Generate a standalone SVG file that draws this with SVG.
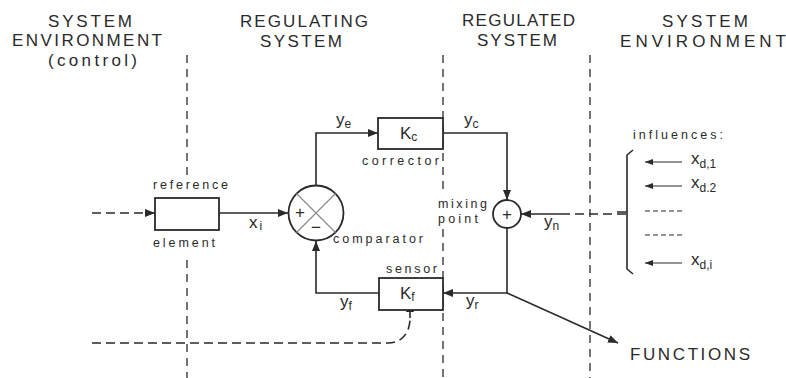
<svg xmlns="http://www.w3.org/2000/svg" width="786" height="378" viewBox="0 0 786 378">
<defs>
<marker id="ah" viewBox="0 0 10 8" refX="10" refY="4" markerWidth="10" markerHeight="8" markerUnits="userSpaceOnUse" orient="auto">
<path d="M0,0 L10,4 L0,8 z" fill="#2a2a2a"/>
</marker>
<marker id="ahs" viewBox="0 0 8 6" refX="8" refY="3" markerWidth="8" markerHeight="6" markerUnits="userSpaceOnUse" orient="auto">
<path d="M0,0 L8,3 L0,6 z" fill="#2a2a2a"/>
</marker>
<style>
.hd{font-family:"Liberation Sans",Arial,sans-serif;font-size:17px;fill:#2a2a2a;}
.lb{font-family:"Liberation Sans",Arial,sans-serif;font-size:12.5px;fill:#2a2a2a;}
.var{font-family:"Liberation Sans",Arial,sans-serif;font-size:17px;fill:#2a2a2a;}
.sub{font-size:12px;}
.box{fill:#fff;stroke:#2a2a2a;stroke-width:1.8;}
.ln{fill:none;stroke:#2a2a2a;stroke-width:1.6;}
.thin{fill:none;stroke:#2a2a2a;stroke-width:1.2;}
.dash{fill:none;stroke:#2a2a2a;stroke-width:1.6;stroke-dasharray:9 5;}
.bd{fill:none;stroke:#3a3a3a;stroke-width:1.4;stroke-dasharray:8 6;}
</style>
</defs>
<rect width="786" height="378" fill="#fff"/>

<g id="headers">
<text class="hd" x="48" y="27" textLength="84" lengthAdjust="spacing">SYSTEM</text>
<text class="hd" x="12" y="46" textLength="150" lengthAdjust="spacing">ENVIRONMENT</text>
<text class="hd" x="48" y="66" font-size="16" textLength="89" lengthAdjust="spacing">(control)</text>
<text class="hd" x="240" y="27" textLength="128" lengthAdjust="spacing">REGULATING</text>
<text class="hd" x="260" y="47" textLength="82" lengthAdjust="spacing">SYSTEM</text>
<text class="hd" x="462" y="26" textLength="113" lengthAdjust="spacing">REGULATED</text>
<text class="hd" x="477" y="46" textLength="80" lengthAdjust="spacing">SYSTEM</text>
<text class="hd" x="662" y="27" textLength="86" lengthAdjust="spacing">SYSTEM</text>
<text class="hd" x="620" y="47" textLength="166" lengthAdjust="spacing">ENVIRONMENT</text>
</g>

<g id="boundaries">
<path class="bd" d="M187,55 V176 M187,260 V378"/>
<path class="bd" d="M443,55 V193 M443,229 V378"/>
<path class="bd" d="M590,55 V378"/>
</g>

<g id="connectors">
<path class="dash" d="M92,213 H155" marker-end="url(#ah)"/>
<path class="ln" d="M219,213 H288" marker-end="url(#ah)"/>
<path class="ln" d="M316,186 V133 H378" marker-end="url(#ah)"/>
<path class="ln" d="M443,133 H507 V200" marker-end="url(#ah)"/>
<path class="ln" d="M568,214 H521" marker-end="url(#ah)"/>
<path class="dash" d="M626,214 H568"/>
<path class="ln" d="M507,228 V293 H443" marker-end="url(#ah)"/>
<path class="ln" d="M507,293 L618,343" marker-end="url(#ah)"/>
<path class="ln" d="M379,293 H316 V241" marker-end="url(#ah)"/>
<path class="dash" d="M92,343 H388 C402,343 410,333 410,318"/>
<path class="ln" d="M410,318 V302" marker-end="url(#ah)" stroke-width="1.2"/>
</g>

<g id="reference-element">
<rect class="box" x="155" y="198" width="64" height="32"/>
<text class="lb" x="153" y="189" textLength="75" lengthAdjust="spacing">reference</text>
<text class="lb" x="153" y="247" textLength="62" lengthAdjust="spacing">element</text>
</g>

<g id="comparator">
<circle cx="316" cy="213" r="27.5" fill="#fff" stroke="#2a2a2a" stroke-width="1.8"/>
<path d="M296.5,193.5 L335.5,232.5 M335.5,193.5 L296.5,232.5" stroke="#8a8a8a" stroke-width="1.2"/>
<text class="var" x="300" y="218" text-anchor="middle" font-size="16">+</text>
<text class="var" x="316" y="233" text-anchor="middle" font-size="16">−</text>
<text class="lb" x="333" y="243" textLength="90" lengthAdjust="spacing">comparator</text>
</g>

<g id="corrector">
<rect class="box" x="378" y="118" width="65" height="31"/>
<text class="var" x="400" y="139">K<tspan class="sub" dy="2">c</tspan></text>
<text class="lb" x="362" y="165" textLength="77" lengthAdjust="spacing">corrector</text>
</g>

<g id="mixing-point">
<circle cx="507" cy="214" r="14" fill="#fff" stroke="#2a2a2a" stroke-width="1.8"/>
<text class="var" x="507" y="219.5" text-anchor="middle" font-size="15">+</text>
<text class="lb" x="438" y="208" textLength="49" lengthAdjust="spacing">mixing</text>
<text class="lb" x="438" y="223" textLength="40" lengthAdjust="spacing">point</text>
</g>

<g id="sensor">
<rect class="box" x="379" y="278" width="64" height="32"/>
<text class="var" x="400" y="299">K<tspan class="sub" dy="2">f</tspan></text>
<text class="lb" x="386" y="273" textLength="51" lengthAdjust="spacing">sensor</text>
</g>

<g id="variables">
<text class="var" x="336" y="125">y<tspan class="sub" dy="3">e</tspan></text>
<text class="var" x="464" y="125">y<tspan class="sub" dy="3">c</tspan></text>
<text class="var" x="249" y="228">x<tspan class="sub" dy="2" dx="2">i</tspan></text>
<text class="var" x="544" y="227">y<tspan class="sub" dy="3">n</tspan></text>
<text class="var" x="466" y="306">y<tspan class="sub" dy="3">r</tspan></text>
<text class="var" x="340" y="307">y<tspan class="sub" dy="3">f</tspan></text>
</g>

<g id="influences">
<text class="lb" x="633" y="139" textLength="90" lengthAdjust="spacing">influences:</text>
<path class="ln" d="M633,150 L627,155 V212 M617,212 H627 M627,212 V269 L633,274"/>
<path class="thin" d="M682,162 H645" marker-end="url(#ahs)"/>
<path class="thin" d="M682,186 H645" marker-end="url(#ahs)"/>
<path class="thin" d="M645,211 H682 M645,235 H682" stroke-dasharray="5 3"/>
<path class="thin" d="M682,263 H645" marker-end="url(#ahs)"/>
<text class="var" x="691" y="164">x<tspan class="sub" dy="4">d,1</tspan></text>
<text class="var" x="691" y="188">x<tspan class="sub" dy="4">d.2</tspan></text>
<text class="var" x="691" y="265">x<tspan class="sub" dy="4">d,i</tspan></text>
</g>

<g id="functions">
<text class="hd" x="630" y="360" textLength="120" lengthAdjust="spacing">FUNCTIONS</text>
</g>
</svg>
